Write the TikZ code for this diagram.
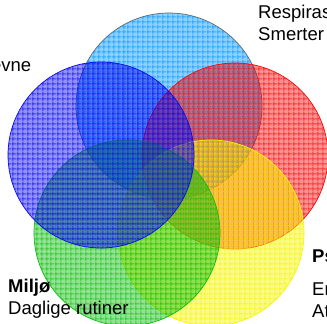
\documentclass[tikz,border=0pt]{standalone}
\usepackage{fontspec}
\setmainfont{Liberation Sans}
\usetikzlibrary{patterns.meta}
\definecolor{skyc}{RGB}{0,150,255}
\definecolor{bluec}{RGB}{10,10,240}
\definecolor{redc}{RGB}{245,10,10}
\definecolor{yellowc}{RGB}{245,245,0}
\definecolor{greenc}{RGB}{15,190,15}
\begin{document}
\begin{tikzpicture}[x=0.03cm,y=-0.03cm,
  ring/.style={fill=#1, fill opacity=0.45, draw=#1, line width=0.6pt,
    postaction={fill opacity=0.65, pattern={Lines[angle=0,distance=4pt,line width=0.85pt]}, pattern color=#1},
    postaction={fill opacity=0.65, pattern={Lines[angle=90,distance=4pt,line width=0.85pt]}, pattern color=#1}},
  lbl/.style={font=\fontsize{15.8pt}{18pt}\selectfont, inner sep=0pt, anchor=base west}]
\useasboundingbox (0,0) rectangle (327,323);
\clip (0,0) rectangle (327,323);
% the five circles
\draw[ring=skyc, draw=black!60] (169,106) circle (93);
\draw[ring=redc] (235,156) circle (93);
\draw[ring=yellowc] (211,233) circle (93);
\draw[ring=greenc] (127,233) circle (93);
\draw[ring=bluec] (101,155) circle (93);
% labels
\node (resp) at (258,18) [lbl] {Respiras};
\node (smert) at (258,40) [lbl] {Smerter};
\node (evne) at (31.5,71) [lbl, anchor=base east] {evne};
\node (milj) at (8,292) [lbl] {\bfseries Miljø};
\node (dagl) at (8,314) [lbl] {Daglige rutiner};
\node (psyk) at (312,262) [lbl] {\bfseries Ps};
\node (er) at (312,295) [lbl] {Er};
\node (atxt) at (312,317) [lbl] {At};
\end{tikzpicture}
\end{document}
